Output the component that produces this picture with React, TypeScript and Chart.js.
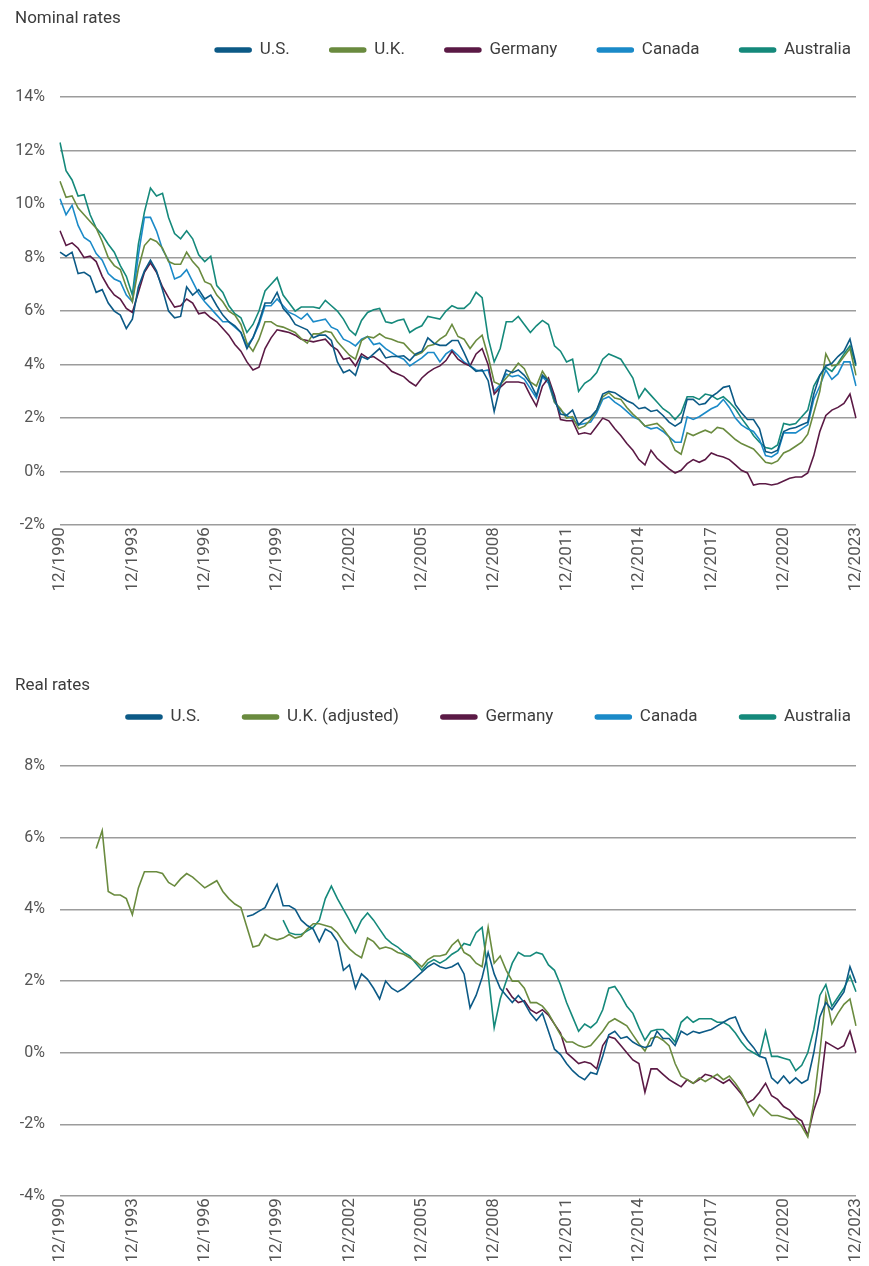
import React, { useEffect, useRef } from 'react';
import { Chart, registerables } from 'chart.js';

Chart.register(...registerables);

const FONT = 'Roboto, "Noto Sans", "DejaVu Sans", sans-serif';
Chart.defaults.font.family = FONT;

// Quarterly category labels, 12/1990 … 12/2023
const quarterLabels: string[] = [];
for (let y = 1990; y <= 2023; y++) {
  for (const m of ['03', '06', '09', '12']) {
    if (y === 1990 && m !== '12') continue;
    quarterLabels.push(`${m}/${y}`);
  }
}

const seriesNames = ['U.S.', 'U.K.', 'Germany', 'Canada', 'Australia'];
const realSeriesNames = ['U.S.', 'U.K. (adjusted)', 'Germany', 'Canada', 'Australia'];
const seriesColors = ['#0c5a86', '#6a8b3f', '#5b1a45', '#1b8ac8', '#15897b'];

// ---------- Nominal rates (%) quarterly from 12/1990 ----------
const nominalUS = [
  8.2, 8.05, 8.2, 7.4, 7.45, 7.3, 6.7, 6.8, 6.3, 6.0,
  5.85, 5.35, 5.7, 6.9, 7.5, 7.9, 7.5, 6.8, 6.0, 5.75,
  5.8, 6.9, 6.6, 6.8, 6.45, 6.6, 6.2, 5.85, 5.6, 5.45,
  5.2, 4.6, 5.0, 5.6, 6.3, 6.3, 6.7, 6.1, 5.85, 5.5,
  5.4, 5.3, 5.0, 5.1, 5.1, 4.9, 4.1, 3.7, 3.8, 3.6,
  4.3, 4.2, 4.4, 4.6, 4.25, 4.3, 4.3, 4.33, 4.15, 4.4,
  4.5, 5.0, 4.8, 4.72, 4.72, 4.9, 4.9, 4.45, 3.95, 3.75,
  3.8, 3.4, 2.25, 3.2, 3.8, 3.7, 3.8, 3.6, 3.3, 2.85,
  3.6, 3.4, 2.7, 2.15, 2.1, 2.3, 1.75, 1.95, 2.05, 2.3,
  2.9, 3.0, 2.95, 2.8, 2.65, 2.55, 2.35, 2.4, 2.25, 2.3,
  2.1, 1.85, 1.7, 1.85, 2.7, 2.7, 2.5, 2.55, 2.8, 2.95,
  3.15, 3.2, 2.5, 2.2, 1.95, 1.95, 1.6, 0.75, 0.7, 0.8,
  1.5, 1.6, 1.65, 1.75, 1.85, 2.9, 3.6, 3.95, 4.05, 4.3,
  4.5, 4.95, 4.0,
];
const nominalUK = [
  10.85, 10.25, 10.3, 9.85, 9.6, 9.35, 9.1, 8.6, 8.0, 7.7,
  7.55, 6.9, 6.35, 7.6, 8.45, 8.7, 8.6, 8.35, 7.85, 7.75,
  7.75, 8.2, 7.85, 7.6, 7.1, 7.0, 6.6, 6.35, 6.0, 5.85,
  5.5, 4.8, 4.5, 4.95, 5.6, 5.6, 5.45, 5.4, 5.3, 5.2,
  4.97, 4.8, 5.15, 5.15, 5.25, 5.2, 4.85, 4.6, 4.35, 4.2,
  4.9, 5.05, 5.0, 5.15, 5.0, 4.95, 4.85, 4.8, 4.55, 4.35,
  4.45, 4.7, 4.75, 4.95, 5.1, 5.5, 5.05, 4.95, 4.6, 4.9,
  5.1, 4.3, 3.35, 3.25, 3.5, 3.75, 4.05, 3.85, 3.35, 3.2,
  3.75, 3.4, 2.6, 2.35, 2.0, 2.05, 1.6, 1.7, 1.95, 2.3,
  2.8, 2.95, 2.75, 2.7, 2.4, 2.15, 1.95, 1.7, 1.75, 1.8,
  1.6, 1.3, 0.8, 0.65, 1.45, 1.35, 1.45, 1.55, 1.45, 1.65,
  1.6, 1.4, 1.2, 1.05, 0.95, 0.85, 0.6, 0.35, 0.3, 0.4,
  0.7, 0.8, 0.95, 1.1, 1.4, 2.2, 3.0, 4.4, 3.95, 4.0,
  4.3, 4.6, 3.6,
];
const nominalDE = [
  9.0, 8.45, 8.55, 8.35, 8.0, 8.05, 7.85, 7.3, 6.9, 6.6,
  6.45, 6.1, 5.95, 6.7, 7.45, 7.8, 7.45, 6.9, 6.5, 6.15,
  6.2, 6.45, 6.3, 5.9, 5.95, 5.75, 5.6, 5.35, 5.1, 4.75,
  4.5, 4.1, 3.8, 3.9, 4.6, 5.0, 5.3, 5.25, 5.2, 5.1,
  4.95, 4.9, 4.85, 4.9, 4.95, 4.7, 4.55, 4.2, 4.25, 3.95,
  4.4, 4.25, 4.3, 4.15, 4.0, 3.75, 3.65, 3.55, 3.35, 3.2,
  3.5, 3.7, 3.85, 3.95, 4.15, 4.5, 4.2, 4.05, 3.95, 4.4,
  4.6, 4.0, 2.9, 3.15, 3.35, 3.35, 3.35, 3.3, 2.85, 2.45,
  3.2, 3.5, 2.85, 1.95, 1.9, 1.9, 1.4, 1.45, 1.4, 1.7,
  2.0, 1.9, 1.6, 1.35, 1.05, 0.8, 0.45, 0.25, 0.8, 0.5,
  0.3, 0.1, -0.05, 0.05, 0.3, 0.45, 0.35, 0.45, 0.7, 0.6,
  0.55, 0.45, 0.25, 0.05, -0.05, -0.5, -0.45, -0.45, -0.5, -0.45,
  -0.35, -0.25, -0.2, -0.2, -0.05, 0.6, 1.5, 2.1, 2.3, 2.4,
  2.55, 2.9, 2.0,
];
const nominalCA = [
  10.2, 9.6, 9.95, 9.2, 8.75, 8.6, 8.15, 7.9, 7.4, 7.2,
  7.1, 6.6, 6.35, 8.1, 9.5, 9.5, 9.0, 8.3, 7.9, 7.2,
  7.3, 7.55, 7.1, 6.65, 6.35, 6.1, 5.85, 5.6, 5.6, 5.4,
  5.2, 4.7, 5.0, 5.5, 6.2, 6.2, 6.45, 6.2, 5.95, 5.85,
  5.7, 5.9, 5.6, 5.65, 5.7, 5.4, 5.3, 4.95, 4.85, 4.7,
  4.95, 5.05, 4.75, 4.8, 4.6, 4.45, 4.3, 4.2, 3.95, 4.1,
  4.25, 4.45, 4.45, 4.1, 4.4, 4.55, 4.35, 4.1, 3.95, 3.8,
  3.75, 3.8, 3.0, 3.25, 3.65, 3.55, 3.6, 3.45, 3.1, 2.75,
  3.55, 3.3, 2.6, 2.3, 2.1, 1.95, 1.75, 1.8, 1.85, 2.2,
  2.7, 2.8, 2.6, 2.45, 2.25, 2.05, 1.95, 1.7, 1.6, 1.65,
  1.5, 1.3, 1.1, 1.1, 2.05, 1.95, 2.05, 2.2, 2.35, 2.45,
  2.7, 2.4, 2.0, 1.75, 1.6, 1.5, 1.2, 0.6, 0.55, 0.7,
  1.45, 1.45, 1.45, 1.6, 1.75, 2.7, 3.2, 3.8, 3.45, 3.65,
  4.1, 4.1, 3.2,
];
const nominalAU = [
  12.3, 11.25, 10.9, 10.3, 10.35, 9.6, 9.1, 8.85, 8.5, 8.2,
  7.7, 7.3, 6.6, 8.5, 9.7, 10.6, 10.3, 10.4, 9.5, 8.9,
  8.7, 9.0, 8.7, 8.1, 7.85, 8.05, 6.95, 6.7, 6.2, 5.9,
  5.75, 5.2, 5.5, 6.0, 6.75, 7.0, 7.25, 6.6, 6.3, 6.0,
  6.15, 6.15, 6.15, 6.1, 6.4, 6.2, 6.0, 5.7, 5.3, 5.1,
  5.65, 5.95, 6.05, 6.1, 5.6, 5.55, 5.65, 5.7, 5.2, 5.35,
  5.45, 5.8, 5.75, 5.7, 6.0, 6.2, 6.1, 6.1, 6.3, 6.7,
  6.5, 5.0, 4.1, 4.6, 5.6, 5.6, 5.8, 5.5, 5.2, 5.45,
  5.65, 5.5, 4.7, 4.5, 4.1, 4.2, 3.0, 3.3, 3.45, 3.7,
  4.2, 4.4, 4.3, 4.2, 3.85, 3.5, 2.75, 3.1, 2.85, 2.6,
  2.35, 2.2, 1.95, 2.2, 2.8, 2.8, 2.7, 2.9, 2.85, 2.7,
  2.8, 2.6, 2.35, 2.0, 1.7, 1.35, 1.1, 0.9, 0.85, 1.0,
  1.8, 1.75, 1.8, 2.05, 2.3, 3.2, 3.6, 3.9, 3.75, 4.05,
  4.4, 4.7, 3.95,
];

// ---------- Real rates (%) quarterly; each series begins at the given quarter index ----------
const realUSStart = 31;
const realUS = [
  3.8, 3.85, 3.95, 4.05, 4.4, 4.7, 4.1, 4.1, 4.0,
  3.7, 3.55, 3.45, 3.1, 3.45, 3.35, 3.1, 2.3, 2.45, 1.8,
  2.2, 2.05, 1.8, 1.5, 2.0, 1.8, 1.7, 1.8, 1.95, 2.1,
  2.25, 2.4, 2.5, 2.4, 2.35, 2.4, 2.5, 2.2, 1.25, 1.6,
  2.1, 2.8, 2.2, 1.8, 1.6, 1.4, 1.6, 1.4, 1.1, 0.9,
  1.1, 0.6, 0.1, -0.05, -0.3, -0.5, -0.65, -0.75, -0.55, -0.6,
  -0.1, 0.5, 0.6, 0.4, 0.45, 0.3, 0.2, 0.15, 0.2, 0.6,
  0.4, 0.4, 0.2, 0.6, 0.5, 0.6, 0.55, 0.6, 0.65, 0.75,
  0.85, 0.95, 1.0, 0.6, 0.35, 0.15, -0.1, -0.15, -0.7, -0.85,
  -0.65, -0.85, -0.7, -0.85, -0.75, 0.0, 1.0, 1.4, 1.2, 1.45,
  1.7, 2.4, 1.95,
];
const realUKStart = 6;
const realUK = [
  5.7, 6.2, 4.5, 4.4,
  4.4, 4.3, 3.85, 4.6, 5.05, 5.05, 5.05, 5.0, 4.75, 4.65,
  4.85, 5.0, 4.9, 4.75, 4.6, 4.7, 4.8, 4.5, 4.3, 4.15,
  4.05, 3.5, 2.95, 3.0, 3.3, 3.2, 3.15, 3.2, 3.3, 3.2,
  3.25, 3.45, 3.6, 3.6, 3.55, 3.5, 3.35, 3.1, 2.9, 2.75,
  2.65, 3.2, 3.1, 2.9, 2.95, 2.9, 2.8, 2.75, 2.65, 2.55,
  2.4, 2.6, 2.7, 2.7, 2.75, 3.0, 3.15, 2.8, 2.7, 2.5,
  2.4, 3.5, 2.5, 2.7, 2.3, 2.0, 2.0, 1.8, 1.4, 1.4,
  1.3, 1.1, 0.8, 0.5, 0.3, 0.3, 0.2, 0.15, 0.2, 0.4,
  0.6, 0.85, 0.95, 0.85, 0.75, 0.5, 0.25, 0.05, 0.4, 0.45,
  0.35, 0.2, -0.3, -0.65, -0.75, -0.85, -0.7, -0.8, -0.7, -0.6,
  -0.75, -0.65, -0.85, -1.1, -1.45, -1.75, -1.45, -1.6, -1.75, -1.75,
  -1.8, -1.85, -1.85, -2.05, -2.35, -1.4, 0.0, 1.6, 0.8, 1.1,
  1.35, 1.5, 0.75,
];
const realDEStart = 74;
const realDE = [
  1.8, 1.55, 1.4, 1.45, 1.2, 1.1,
  1.2, 1.05, 0.8, 0.55, 0.0, -0.15, -0.3, -0.25, -0.3, -0.45,
  0.2, 0.45, 0.4, 0.2, 0.0, -0.2, -0.3, -1.1, -0.45, -0.45,
  -0.6, -0.75, -0.85, -0.95, -0.75, -0.85, -0.75, -0.6, -0.65, -0.75,
  -0.85, -0.75, -0.95, -1.15, -1.4, -1.3, -1.1, -0.85, -1.2, -1.3,
  -1.5, -1.6, -1.8, -1.9, -2.3, -1.6, -1.1, 0.3, 0.2, 0.1,
  0.2, 0.6, 0.0,
];
const realCAStart = 133;
const realCA: number[] = [];
const realAUStart = 37;
const realAU = [
  3.7, 3.35, 3.3,
  3.3, 3.4, 3.5, 3.7, 4.3, 4.65, 4.3, 4.0, 3.7, 3.35,
  3.7, 3.9, 3.7, 3.45, 3.2, 3.05, 2.95, 2.8, 2.7, 2.5,
  2.3, 2.5, 2.6, 2.5, 2.6, 2.75, 2.85, 3.05, 3.0, 3.35,
  3.5, 2.2, 0.7, 1.5, 2.0, 2.5, 2.8, 2.7, 2.7, 2.8,
  2.75, 2.45, 2.3, 1.9, 1.4, 1.0, 0.6, 0.8, 0.7, 0.85,
  1.2, 1.8, 1.85, 1.6, 1.3, 1.1, 0.7, 0.35, 0.6, 0.65,
  0.65, 0.5, 0.3, 0.85, 1.0, 0.85, 0.95, 0.95, 0.95, 0.85,
  0.85, 0.75, 0.55, 0.3, 0.1, 0.0, -0.1, 0.6, -0.1, -0.1,
  -0.15, -0.2, -0.5, -0.35, 0.0, 0.65, 1.6, 1.9, 1.3, 1.55,
  1.8, 2.15, 1.7,
];

const padStart = (start: number, vals: number[]) =>
  [...new Array(start).fill(null), ...vals] as (number | null)[];

const nominalSeries = [nominalUS, nominalUK, nominalDE, nominalCA, nominalAU];
const realSeries = [
  padStart(realUSStart, realUS),
  padStart(realUKStart, realUK),
  padStart(realDEStart, realDE),
  padStart(realCAStart, realCA),
  padStart(realAUStart, realAU),
];

// Moves the built-in legend to an exact row position after layout
const legendPlacer = {
  id: 'legendPlacer',
  afterLayout(chart: any, _args: any, opts: any) {
    const lg = chart.legend;
    if (!lg || opts == null || opts.centerY == null) return;
    const pad = lg.options.labels.padding;
    const top = opts.centerY - pad - opts.itemHeight / 2;
    const h = lg.height;
    const w = lg.width;
    lg.top = top;
    lg.bottom = top + h;
    lg.right = opts.rightEnd + pad;
    lg.left = lg.right - w;
  },
};

type CfgParams = {
  title: string;
  names: string[];
  data: (number | null)[][];
  yMin: number;
  yMax: number;
  titleTop: number;
  titleBottom: number;
  legendPad: number;
  legendY: number;
  padBottom: number;
};

function makeConfig(p: CfgParams): any {
  return {
    type: 'line',
    data: {
      labels: quarterLabels,
      datasets: p.names.map((name, i) => ({
        label: name,
        data: p.data[i],
        borderColor: seriesColors[i],
        backgroundColor: seriesColors[i],
        borderWidth: 1.6,
        pointRadius: 0,
        pointHoverRadius: 0,
        tension: 0,
        fill: false,
      })),
    },
    options: {
      animation: false,
      responsive: false,
      devicePixelRatio: 1,
      events: [],
      layout: { padding: { left: 15, right: 0, top: 0, bottom: p.padBottom } },
      plugins: {
        title: {
          display: true,
          text: p.title,
          align: 'start',
          color: '#3d3d3d',
          font: { family: FONT, size: 17, weight: 'normal' },
          padding: { top: p.titleTop, bottom: p.titleBottom },
        },
        legend: {
          display: true,
          position: 'top',
          align: 'end',
          labels: {
            boxWidth: 36,
            boxHeight: 4,
            useBorderRadius: true,
            borderRadius: 2,
            padding: p.legendPad,
            color: '#3d3d3d',
            font: { family: FONT, size: 17 },
          },
        },
        tooltip: { enabled: false },
        legendPlacer: { centerY: p.legendY, rightEnd: 851, itemHeight: 17 },
      },
      scales: {
        x: {
          type: 'category',
          grid: { display: false, drawTicks: false },
          border: { display: false },
          afterFit: (s: any) => {
            s.paddingRight = 13;
          },
          ticks: {
            autoSkip: false,
            minRotation: 90,
            maxRotation: 90,
            padding: 2,
            color: '#555555',
            font: { family: FONT, size: 17 },
            callback: (_v: any, i: number) => (i % 12 === 0 ? quarterLabels[i] : ''),
          },
        },
        y: {
          min: p.yMin,
          max: p.yMax,
          afterFit: (s: any) => {
            s.width = 45;
          },
          border: { display: false },
          grid: { color: '#9c9c9c', lineWidth: 1.5, drawTicks: false },
          ticks: {
            stepSize: 2,
            padding: 15,
            color: '#555555',
            font: { family: FONT, size: 16 },
            callback: (v: any) => `${v}%`,
          },
        },
      },
    },
    plugins: [legendPlacer],
  };
}

const nominalConfig = () =>
  makeConfig({
    title: 'Nominal rates',
    names: seriesNames,
    data: nominalSeries,
    yMin: -2,
    yMax: 14,
    titleTop: 9,
    titleBottom: 0.6,
    legendPad: 40,
    legendY: 50,
    padBottom: 46.5,
  });

const realConfig = () =>
  makeConfig({
    title: 'Real rates',
    names: realSeriesNames,
    data: realSeries,
    yMin: -4,
    yMax: 8,
    titleTop: 35.8,
    titleBottom: 0.8,
    legendPad: 42,
    legendY: 77,
    padBottom: 1.5,
  });

function ChartBox({ makeCfg, width, height }: { makeCfg: () => any; width: number; height: number }) {
  const ref = useRef<HTMLCanvasElement>(null);
  useEffect(() => {
    if (!ref.current) return;
    const chart = new Chart(ref.current, makeCfg());
    return () => chart.destroy();
  }, [makeCfg]);
  return <canvas ref={ref} width={width} height={height} style={{ display: 'block', width, height }} />;
}

export default function App() {
  useEffect(() => {
    document.body.style.margin = '0';
  }, []);
  return (
    <div style={{ width: 869, height: 1266, background: '#ffffff', margin: 0, overflow: 'hidden' }}>
      <ChartBox makeCfg={nominalConfig} width={869} height={640} />
      <ChartBox makeCfg={realConfig} width={869} height={626} />
    </div>
  );
}
